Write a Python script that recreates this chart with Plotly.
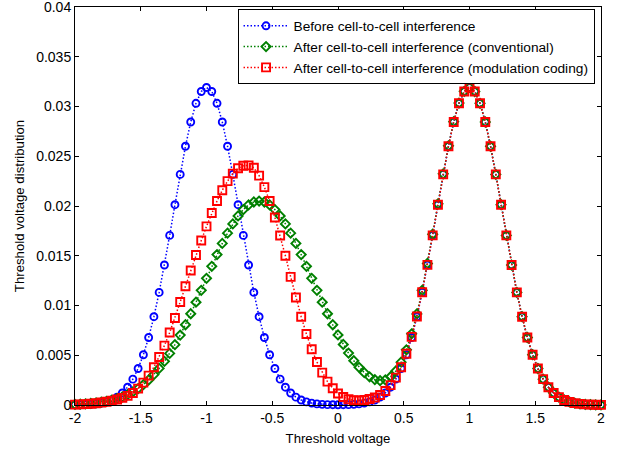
import plotly.graph_objects as go

# threshold voltage sample points
vth = [-2.00, -1.96, -1.92, -1.88, -1.84, -1.80, -1.76, -1.72, -1.68, -1.64,
       -1.60, -1.56, -1.52, -1.48, -1.44, -1.40, -1.36, -1.32, -1.28, -1.24,
       -1.20, -1.16, -1.12, -1.08, -1.04, -1.00, -0.96, -0.92, -0.88, -0.84,
       -0.80, -0.76, -0.72, -0.68, -0.64, -0.60, -0.56, -0.52, -0.48, -0.44,
       -0.40, -0.36, -0.32, -0.28, -0.24, -0.20, -0.16, -0.12, -0.08, -0.04,
       0.00, 0.04, 0.08, 0.12, 0.16, 0.20, 0.24, 0.28, 0.32, 0.36,
       0.40, 0.44, 0.48, 0.52, 0.56, 0.60, 0.64, 0.68, 0.72, 0.76,
       0.80, 0.84, 0.88, 0.92, 0.96, 1.00, 1.04, 1.08, 1.12, 1.16,
       1.20, 1.24, 1.28, 1.32, 1.36, 1.40, 1.44, 1.48, 1.52, 1.56,
       1.60, 1.64, 1.68, 1.72, 1.76, 1.80, 1.84, 1.88, 1.92, 1.96, 2.00]

before = [0.000011, 0.000020, 0.000037, 0.000065, 0.000113, 0.000191, 0.000314, 0.000505, 0.000790, 0.001205,
          0.001791, 0.002597, 0.003669, 0.005052, 0.006783, 0.008874, 0.011317, 0.014068, 0.017047, 0.020131,
          0.023175, 0.026004, 0.028442, 0.030322, 0.031509, 0.031915, 0.031509, 0.030322, 0.028442, 0.026004,
          0.023175, 0.020131, 0.017047, 0.014068, 0.011317, 0.008874, 0.006783, 0.005052, 0.003669, 0.002597,
          0.001791, 0.001205, 0.000790, 0.000505, 0.000314, 0.000191, 0.000113, 0.000065, 0.000037, 0.000030,
          0.000022, 0.000030, 0.000037, 0.000065, 0.000113, 0.000191, 0.000314, 0.000505, 0.000790, 0.001205,
          0.001791, 0.002597, 0.003669, 0.005052, 0.006783, 0.008874, 0.011317, 0.014068, 0.017047, 0.020131,
          0.023175, 0.026004, 0.028442, 0.030322, 0.031509, 0.031915, 0.031509, 0.030322, 0.028442, 0.026004,
          0.023175, 0.020131, 0.017047, 0.014068, 0.011317, 0.008874, 0.006783, 0.005052, 0.003669, 0.002597,
          0.001791, 0.001205, 0.000790, 0.000505, 0.000314, 0.000191, 0.000113, 0.000065, 0.000037, 0.000020,
          0.000011]

conventional = [0.000060, 0.000084, 0.000115, 0.000157, 0.000212, 0.000283, 0.000375, 0.000491, 0.000638, 0.000822,
                0.001047, 0.001322, 0.001654, 0.002049, 0.002513, 0.003056, 0.003679, 0.004386, 0.005181, 0.006063,
                0.007026, 0.008066, 0.009172, 0.010331, 0.011526, 0.012737, 0.013943, 0.015118, 0.016237, 0.017272,
                0.018200, 0.018997, 0.019640, 0.020113, 0.020403, 0.020500, 0.020403, 0.020113, 0.019640, 0.018997,
                0.018200, 0.017272, 0.016237, 0.015118, 0.013943, 0.012737, 0.011526, 0.010331, 0.009172, 0.008066,
                0.007037, 0.006083, 0.005218, 0.004451, 0.003792, 0.003247, 0.002827, 0.002554, 0.002444, 0.002527,
                0.002838, 0.003419, 0.004307, 0.005543, 0.007158, 0.009157, 0.011529, 0.014225, 0.017162, 0.020215,
                0.023235, 0.026044, 0.028472, 0.030342, 0.031524, 0.031925, 0.031509, 0.030322, 0.028442, 0.026004,
                0.023175, 0.020131, 0.017047, 0.014068, 0.011317, 0.008874, 0.006783, 0.005052, 0.003669, 0.002597,
                0.001791, 0.001205, 0.000790, 0.000505, 0.000314, 0.000191, 0.000113, 0.000065, 0.000037, 0.000020,
                0.000011]

modulation = [0.00004, 0.00006, 0.00009, 0.00013, 0.00018, 0.00025, 0.00033, 0.00043, 0.00056, 0.00072,
              0.00092, 0.00120, 0.00165, 0.00225, 0.00295, 0.00380, 0.00483, 0.00597, 0.00728, 0.00875,
              0.01035, 0.01193, 0.01352, 0.01508, 0.01653, 0.01795, 0.01930, 0.02050, 0.02158, 0.02250,
              0.02325, 0.02380, 0.02405, 0.02408, 0.02385, 0.02305, 0.02190, 0.02050, 0.01885, 0.01703,
              0.01500, 0.01288, 0.01080, 0.00887, 0.00713, 0.00560, 0.00432, 0.00325, 0.00235, 0.00168,
              0.00115, 0.00080, 0.00058, 0.00048, 0.00045, 0.00050, 0.00060, 0.00075, 0.00100, 0.00140,
              0.00200, 0.00275, 0.00380, 0.00515, 0.00685, 0.00890, 0.01133, 0.01408, 0.01705, 0.02013,
              0.023175, 0.026004, 0.028442, 0.030322, 0.031509, 0.031915, 0.031509, 0.030322, 0.028442, 0.026004,
              0.023175, 0.020131, 0.017047, 0.014068, 0.011317, 0.008874, 0.006783, 0.005052, 0.003669, 0.002597,
              0.001791, 0.001205, 0.000790, 0.000505, 0.000314, 0.000191, 0.000113, 0.000065, 0.000037, 0.000020,
              0.000011]

series_names = ["Before cell-to-cell interference",
                "After cell-to-cell interference (conventional)",
                "After cell-to-cell interference (modulation coding)"]

x_ticks = [-2, -1.5, -1, -0.5, 0, 0.5, 1, 1.5, 2]
x_ticktext = ["-2", "-1.5", "-1", "-0.5", "0", "0.5", "1", "1.5", "2"]
y_ticks = [0, 0.005, 0.01, 0.015, 0.02, 0.025, 0.03, 0.035, 0.04]
y_ticktext = ["0", "0.005", "0.01", "0.015", "0.02", "0.025", "0.03", "0.035", "0.04"]

FONT = "Arial, 'Liberation Sans', sans-serif"

styles = [
    dict(color="#0000FF", symbol="circle-open", size=7),
    dict(color="#008000", symbol="diamond-open", size=7),
    dict(color="#FF0000", symbol="square-open", size=8),
]

fig = go.Figure()
for name, ys, st in zip(series_names, [before, conventional, modulation], styles):
    fig.add_trace(go.Scatter(
        x=vth, y=ys, name=name, mode="lines+markers",
        line=dict(color=st["color"], width=1.5, dash="1.5px,2px"),
        marker=dict(symbol=st["symbol"], size=st["size"], color=st["color"],
                    line=dict(color=st["color"], width=1.9)),
        cliponaxis=False,
    ))

axis_common = dict(
    showline=True, linecolor="black", linewidth=1, mirror="ticks",
    ticks="inside", ticklen=4, tickcolor="black", tickwidth=1,
    showgrid=False, zeroline=False, automargin=False,
    ticklabeloverflow="allow",
    tickfont=dict(family=FONT, size=14, color="black"),
)

fig.update_layout(
    width=623, height=449,
    margin=dict(l=74.5, r=21.5, t=7, b=44),
    paper_bgcolor="white", plot_bgcolor="white",
    font=dict(family=FONT, size=13, color="black"),
    xaxis=dict(range=[-2, 2], tickvals=x_ticks, ticktext=x_ticktext,
               title=dict(text="Threshold voltage", font=dict(family=FONT, size=13.2, color="black"),
                          standoff=8),
               **axis_common),
    yaxis=dict(range=[0, 0.04], tickvals=y_ticks, ticktext=y_ticktext,
               title=dict(text="Threshold voltage distribution",
                          font=dict(family=FONT, size=13.2, color="black"), standoff=8),
               **axis_common),
    legend=dict(x=0.9877, y=0.994, xanchor="right", yanchor="top",
                bgcolor="white", bordercolor="black", borderwidth=1,
                font=dict(family=FONT, size=13.7, color="black"),
                itemwidth=45, tracegroupgap=0),
    showlegend=True,
)

fig.write_html("out.html",
               config={"displayModeBar": False},
               post_script="document.body.style.margin='0px';document.body.style.padding='0px';")
